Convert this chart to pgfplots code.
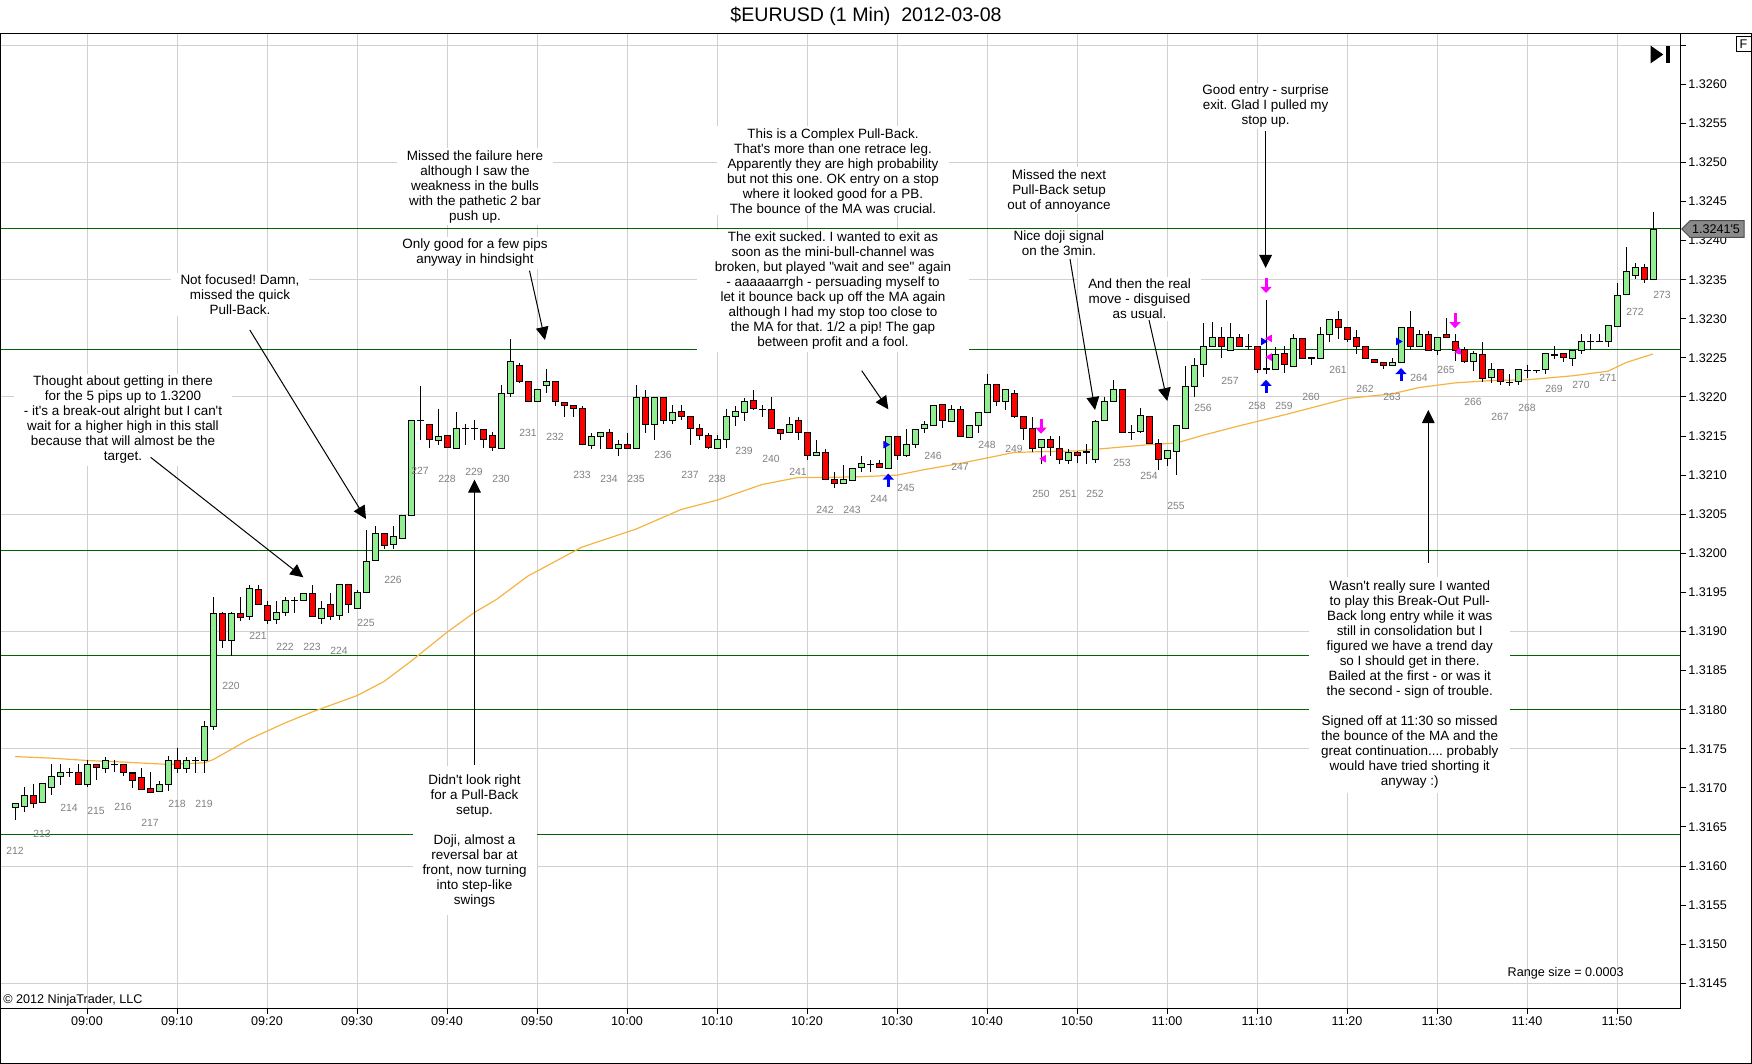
\documentclass[border=0pt]{standalone}
\usepackage{fontspec}
\setmainfont{Liberation Sans}[Ligatures=TeXOff]
\usepackage{pgfplots}
\usepackage{pgfplotstable}
\pgfplotsset{compat=1.18}
\usetikzlibrary{arrows.meta}
\frenchspacing
\definecolor{cgreen}{HTML}{90EE90}
\definecolor{cred}{HTML}{FF0000}
\definecolor{dkgreen}{HTML}{006400}
\definecolor{gridgray}{HTML}{D0D0D0}
\definecolor{maorange}{HTML}{F5B342}
\definecolor{lblgray}{HTML}{808080}
\definecolor{sigmag}{HTML}{FF00FF}
\definecolor{sigblue}{HTML}{0000FF}
\definecolor{markgray}{HTML}{8A8A8A}
\newcommand\tickfont{\fontsize{6.3}{7.5}\selectfont}
\newcommand\annfont{\fontsize{6.73}{7.5}\selectfont}
\newcommand\barfont{\fontsize{5.2}{6}\selectfont}
\newcommand\titlefont{\fontsize{9.8}{11}\selectfont}

\pgfplotstableread{
k o h l c
0 1.31676 1.31681 1.31660 1.31681
1 1.31676 1.31701 1.31670 1.31691
3 1.31681 1.31705 1.31681 1.31705
4 1.31701 1.31731 1.31691 1.31715
5 1.31715 1.31731 1.31705 1.31720
8 1.31705 1.31736 1.31701 1.31731
10 1.31726 1.31741 1.31720 1.31736
16 1.31696 1.31710 1.31696 1.31705
17 1.31705 1.31741 1.31696 1.31736
19 1.31726 1.31741 1.31720 1.31736
21 1.31736 1.31786 1.31720 1.31780
22 1.31780 1.31945 1.31775 1.31925
24 1.31890 1.31925 1.31869 1.31925
26 1.31920 1.31960 1.31915 1.31955
29 1.31916 1.31940 1.31911 1.31925
30 1.31925 1.31945 1.31920 1.31940
32 1.31940 1.31950 1.31940 1.31950
34 1.31916 1.31940 1.31911 1.31930
36 1.31920 1.31960 1.31915 1.31960
38 1.31930 1.31955 1.31930 1.31950
39 1.31951 1.32031 1.31951 1.31991
40 1.31991 1.32036 1.31991 1.32026
42 1.32011 1.32036 1.32006 1.32021
43 1.32021 1.32050 1.32021 1.32050
44 1.32050 1.32171 1.32050 1.32171
47 1.32146 1.32186 1.32140 1.32151
49 1.32135 1.32181 1.32135 1.32160
54 1.32135 1.32215 1.32135 1.32205
55 1.32205 1.32275 1.32200 1.32245
58 1.32195 1.32210 1.32195 1.32210
59 1.32215 1.32236 1.32205 1.32220
64 1.32140 1.32155 1.32135 1.32151
65 1.32151 1.32155 1.32135 1.32155
67 1.32135 1.32146 1.32125 1.32140
69 1.32135 1.32215 1.32135 1.32200
71 1.32166 1.32200 1.32146 1.32200
73 1.32171 1.32190 1.32166 1.32181
78 1.32135 1.32151 1.32135 1.32146
79 1.32145 1.32185 1.32135 1.32175
80 1.32175 1.32190 1.32165 1.32181
81 1.32181 1.32200 1.32170 1.32195
86 1.32155 1.32175 1.32155 1.32165
89 1.32125 1.32145 1.32125 1.32130
92 1.32090 1.32115 1.32090 1.32095
93 1.32095 1.32110 1.32095 1.32110
94 1.32110 1.32125 1.32105 1.32115
97 1.32110 1.32150 1.32110 1.32150
99 1.32125 1.32160 1.32125 1.32140
100 1.32140 1.32160 1.32135 1.32160
101 1.32160 1.32170 1.32155 1.32165
102 1.32165 1.32190 1.32165 1.32190
104 1.32170 1.32190 1.32170 1.32185
106 1.32150 1.32165 1.32150 1.32165
107 1.32165 1.32181 1.32155 1.32181
108 1.32181 1.32231 1.32181 1.32216
110 1.32195 1.32210 1.32185 1.32210
114 1.32135 1.32145 1.32115 1.32145
117 1.32120 1.32135 1.32115 1.32130
120 1.32121 1.32170 1.32116 1.32170
121 1.32170 1.32201 1.32170 1.32195
122 1.32195 1.32222 1.32195 1.32211
125 1.32155 1.32186 1.32155 1.32176
128 1.32121 1.32131 1.32112 1.32131
129 1.32131 1.32165 1.32101 1.32165
130 1.32161 1.32241 1.32161 1.32215
131 1.32215 1.32250 1.32201 1.32241
132 1.32241 1.32296 1.32226 1.32265
133 1.32265 1.32296 1.32265 1.32276
135 1.32260 1.32296 1.32260 1.32276
140 1.32236 1.32265 1.32236 1.32255
142 1.32241 1.32281 1.32241 1.32276
145 1.32250 1.32290 1.32250 1.32281
146 1.32281 1.32300 1.32270 1.32300
153 1.32241 1.32250 1.32241 1.32245
154 1.32245 1.32290 1.32245 1.32290
156 1.32265 1.32286 1.32265 1.32281
158 1.32260 1.32276 1.32254 1.32276
162 1.32245 1.32260 1.32235 1.32255
164 1.32225 1.32245 1.32220 1.32235
167 1.32220 1.32235 1.32215 1.32235
170 1.32235 1.32255 1.32231 1.32255
173 1.32250 1.32260 1.32240 1.32260
174 1.32260 1.32281 1.32255 1.32271
177 1.32271 1.32292 1.32265 1.32292
178 1.32292 1.32347 1.32292 1.32331
179 1.32331 1.32392 1.32331 1.32361
180 1.32356 1.32371 1.32351 1.32366
182 1.32351 1.32437 1.32351 1.32415
}\greenbars

\pgfplotstableread{
k o h l c
2 1.31691 1.31706 1.31675 1.31681
7 1.31720 1.31731 1.31705 1.31705
9 1.31731 1.31731 1.31710 1.31726
12 1.31731 1.31731 1.31715 1.31720
13 1.31720 1.31720 1.31700 1.31710
14 1.31715 1.31726 1.31700 1.31700
15 1.31701 1.31720 1.31696 1.31696
18 1.31736 1.31751 1.31720 1.31726
23 1.31925 1.31925 1.31880 1.31890
25 1.31925 1.31945 1.31915 1.31920
27 1.31955 1.31960 1.31935 1.31935
28 1.31935 1.31940 1.31911 1.31916
33 1.31950 1.31960 1.31920 1.31920
35 1.31935 1.31950 1.31916 1.31920
37 1.31960 1.31960 1.31925 1.31935
41 1.32026 1.32026 1.32006 1.32011
46 1.32166 1.32166 1.32135 1.32146
48 1.32151 1.32151 1.32135 1.32135
52 1.32160 1.32160 1.32135 1.32146
53 1.32151 1.32155 1.32131 1.32135
56 1.32240 1.32245 1.32220 1.32220
57 1.32220 1.32220 1.32195 1.32195
60 1.32220 1.32220 1.32190 1.32195
61 1.32195 1.32195 1.32175 1.32190
62 1.32189 1.32189 1.32175 1.32186
63 1.32186 1.32189 1.32140 1.32140
66 1.32155 1.32160 1.32135 1.32135
68 1.32140 1.32155 1.32135 1.32135
70 1.32200 1.32210 1.32155 1.32166
72 1.32200 1.32200 1.32166 1.32171
74 1.32181 1.32190 1.32171 1.32175
75 1.32175 1.32175 1.32140 1.32160
76 1.32160 1.32166 1.32146 1.32151
77 1.32151 1.32155 1.32135 1.32135
82 1.32195 1.32210 1.32185 1.32185
84 1.32185 1.32200 1.32160 1.32160
85 1.32160 1.32160 1.32145 1.32155
87 1.32170 1.32175 1.32145 1.32155
88 1.32155 1.32155 1.32120 1.32125
90 1.32130 1.32135 1.32095 1.32095
91 1.32095 1.32105 1.32084 1.32090
96 1.32115 1.32120 1.32110 1.32110
98 1.32150 1.32150 1.32120 1.32125
103 1.32190 1.32190 1.32160 1.32170
105 1.32185 1.32190 1.32150 1.32150
109 1.32216 1.32216 1.32190 1.32195
111 1.32205 1.32210 1.32175 1.32175
112 1.32175 1.32175 1.32145 1.32160
113 1.32160 1.32175 1.32130 1.32135
115 1.32145 1.32150 1.32125 1.32135
116 1.32135 1.32150 1.32115 1.32120
118 1.32131 1.32131 1.32116 1.32126
123 1.32211 1.32211 1.32155 1.32155
126 1.32176 1.32176 1.32141 1.32141
127 1.32141 1.32146 1.32106 1.32121
134 1.32276 1.32290 1.32250 1.32265
136 1.32276 1.32281 1.32265 1.32265
138 1.32265 1.32265 1.32231 1.32236
141 1.32255 1.32265 1.32231 1.32241
143 1.32276 1.32276 1.32250 1.32250
147 1.32300 1.32310 1.32275 1.32290
148 1.32290 1.32290 1.32270 1.32275
149 1.32276 1.32286 1.32255 1.32265
150 1.32265 1.32265 1.32250 1.32250
151 1.32250 1.32250 1.32245 1.32245
152 1.32245 1.32245 1.32236 1.32241
155 1.32290 1.32310 1.32260 1.32265
157 1.32281 1.32286 1.32260 1.32260
159 1.32281 1.32301 1.32276 1.32276
160 1.32271 1.32281 1.32246 1.32260
161 1.32260 1.32266 1.32245 1.32245
163 1.32255 1.32271 1.32220 1.32225
165 1.32235 1.32235 1.32215 1.32220
172 1.32255 1.32255 1.32245 1.32250
181 1.32366 1.32371 1.32347 1.32351
}\redbars

\pgfplotstableread{
k o h l c
6 1.31720 1.31726 1.31715 1.31720
11 1.31731 1.31736 1.31720 1.31731
20 1.31736 1.31741 1.31720 1.31736
31 1.31940 1.31945 1.31925 1.31940
45 1.32171 1.32215 1.32146 1.32171
50 1.32160 1.32166 1.32140 1.32160
51 1.32160 1.32171 1.32146 1.32160
83 1.32185 1.32190 1.32175 1.32185
95 1.32115 1.32120 1.32105 1.32115
119 1.32131 1.32141 1.32116 1.32131
124 1.32155 1.32165 1.32146 1.32155
137 1.32265 1.32281 1.32260 1.32265
139 1.32236 1.32325 1.32231 1.32236
144 1.32250 1.32250 1.32241 1.32250
166 1.32220 1.32231 1.32215 1.32220
168 1.32235 1.32242 1.32225 1.32235
169 1.32235 1.32235 1.32231 1.32235
171 1.32255 1.32266 1.32250 1.32255
175 1.32271 1.32281 1.32260 1.32271
176 1.32271 1.32281 1.32271 1.32271
}\dojibars

\pgfplotstableread{
k p
0 1.31740
4 1.31738
8 1.31735
12 1.31733
17 1.31730
21 1.31732
22 1.31736
24 1.31749
26 1.31762
30 1.31783
33 1.31797
38 1.31818
41 1.31836
44 1.31862
48 1.31899
51 1.31924
53.5 1.31941
57 1.31971
63 1.32008
69 1.32031
74 1.32056
78 1.32068
83 1.32088
87 1.32097
90 1.32097
94 1.32098
98 1.32100
101 1.32107
105 1.32115
108 1.32122
111 1.32129
114 1.32130
118 1.32131
120 1.32133
126 1.32139
129 1.32141
132 1.32151
136 1.32163
141 1.32177
148 1.32198
153 1.32204
156 1.32212
160 1.32218
164 1.32221
168 1.32222
173 1.32227
177 1.32233
179 1.32244
182 1.32255
}\ma

\pgfplotstableread{
n k p
212 0 1.31620
213 3 1.31641
214 6 1.31675
215 9 1.31670
216 12 1.31675
217 15 1.31655
218 18 1.31680
219 21 1.31680
220 24 1.31830
221 27 1.31895
222 30 1.31880
223 33 1.31880
224 36 1.31875
225 39 1.31911
226 42 1.31966
227 45 1.32105
228 48 1.32095
229 51 1.32104
230 54 1.32095
231 57 1.32154
232 60 1.32149
233 63 1.32100
234 66 1.32095
235 69 1.32095
236 72 1.32126
237 75 1.32100
238 78 1.32095
239 81 1.32131
240 84 1.32121
241 87 1.32104
242 90 1.32055
243 93 1.32055
244 96 1.32070
245 99 1.32084
246 102 1.32125
247 105 1.32110
248 108 1.32139
249 111 1.32134
250 114 1.32076
251 117 1.32076
252 120 1.32076
253 123 1.32115
254 126 1.32099
255 129 1.32060
256 132 1.32186
257 135 1.32220
258 138 1.32189
259 141 1.32189
260 144 1.32200
261 147 1.32235
262 150 1.32210
263 153 1.32200
264 156 1.32225
265 159 1.32235
266 162 1.32194
267 165 1.32175
268 168 1.32186
269 171 1.32210
270 174 1.32215
271 177 1.32225
272 180 1.32309
273 183 1.32330
}\barlabels

\pgfplotstableread{
k y v
97.03 1.32085 0.00017
139 1.32205 0.00017
154 1.32220 0.00017
}\bluearrows

\pgfplotstableread{
k y v
114 1.32172 -0.00019
139 1.32352 -0.00019
160 1.32307 -0.00019
}\magarrows

\newcommand\wicks[1]{%
\addplot[draw=none, mark=none, forget plot, error bars/.cd, y dir=both, y explicit, error mark=none,
  error bar style={draw=black, line width=0.5pt}]
  table[x=k, y expr={(\thisrow{h}+\thisrow{l})/2}, y error expr={(\thisrow{h}-\thisrow{l})/2}] {#1};}
\newcommand\bodyline[1]{%
\addplot[draw=none, mark=none, forget plot, error bars/.cd, y dir=both, y explicit, error mark=none,
  error bar style={draw=black, line width=3.5pt}]
  table[x=k, y expr={(\thisrow{o}+\thisrow{c})/2}, y error expr={abs(\thisrow{c}-\thisrow{o})/2+0.0000064}] {#1};}
\newcommand\bodyfill[2]{%
\addplot[draw=none, mark=none, forget plot, error bars/.cd, y dir=both, y explicit, error mark=none,
  error bar style={draw=#2, line width=2.5pt}]
  table[x=k, y expr={(\thisrow{o}+\thisrow{c})/2}, y error expr={max(abs(\thisrow{c}-\thisrow{o})/2-0.0000064,0)}] {#1};}

\begin{document}
\begin{tikzpicture}
\path[use as bounding box] (0,0) rectangle (876pt,-532pt);
\begin{axis}[
  at={(0pt,-17pt)}, anchor=north west,
  scale only axis, width=840pt, height=487.15pt,
  xmin=-1.6667, xmax=185, ymin=1.31418, ymax=1.326643,
  axis line style={black, line width=0.5pt},
  xtick={8,18,28,38,48,58,68,78,88,98,108,118,128,138,148,158,168,178},
  xticklabels={09:00,09:10,09:20,09:30,09:40,09:50,10:00,10:10,10:20,10:30,10:40,10:50,11:00,11:10,11:20,11:30,11:40,11:50},
  ytick={1.3145,1.3150,1.3155,1.3160,1.3165,1.3170,1.3175,1.3180,1.3185,1.3190,1.3195,1.3200,1.3205,1.3210,1.3215,1.3220,1.3225,1.3230,1.3235,1.3240,1.3245,1.3250,1.3255,1.3260,1.3265},
  yticklabels={1.3145,1.3150,1.3155,1.3160,1.3165,1.3170,1.3175,1.3180,1.3185,1.3190,1.3195,1.3200,1.3205,1.3210,1.3215,1.3220,1.3225,1.3230,1.3235,1.3240,1.3245,1.3250,1.3255,1.3260,{}},
  xtick pos=bottom, ytick pos=right, yticklabel pos=right,
  tick align=outside, major tick length=2.75pt,
  tick style={black, line width=0.5pt},
  xmajorgrids, grid style={gridgray, line width=0.5pt},
  extra y ticks={1.3145,1.3160,1.3175,1.3190,1.3205,1.3220,1.3235,1.3250,1.3265},
  extra y tick labels={},
  extra y tick style={grid=major, major tick length=0pt},
  ticklabel style={font=\tickfont, text=black},
  yticklabel style={inner xsep=1.2pt},
  xticklabel style={inner ysep=1.5pt},
  /pgf/number format/assume math mode=true,
]
% support / resistance lines
\addplot[dkgreen, line width=0.5pt, forget plot] coordinates {(-2,1.31640) (186,1.31640)};
\addplot[dkgreen, line width=0.5pt, forget plot] coordinates {(-2,1.31800) (186,1.31800)};
\addplot[dkgreen, line width=0.5pt, forget plot] coordinates {(-2,1.31869) (186,1.31869)};
\addplot[dkgreen, line width=0.5pt, forget plot] coordinates {(-2,1.32003) (186,1.32003)};
\addplot[dkgreen, line width=0.5pt, forget plot] coordinates {(-2,1.32261) (186,1.32261)};
\addplot[dkgreen, line width=0.5pt, forget plot] coordinates {(-2,1.32415) (186,1.32415)};
% moving average
\addplot[maorange, line width=0.6pt, forget plot] table[x=k, y=p] {\ma};
% candles
\wicks{\greenbars}
\wicks{\redbars}
\wicks{\dojibars}
\bodyline{\greenbars}
\bodyline{\redbars}
\bodyline{\dojibars}
\bodyfill{\greenbars}{cgreen}
\bodyfill{\redbars}{cred}
% bar numbers
\addplot[only marks, mark=*, mark size=0pt, mark options={draw=none, fill=none}, forget plot,
  nodes near coords, point meta=explicit symbolic,
  every node near coord/.style={anchor=center, font=\barfont, text=lblgray, inner sep=0pt}]
  table[x=k, y=p, meta=n] {\barlabels};
% signal arrows
\addplot[sigblue, line width=1.5pt, -{Triangle[length=3pt,width=5.4pt]}, quiver={u=0, v=\thisrow{v}}, forget plot]
  table[x=k, y=y] {\bluearrows};
\addplot[sigmag, line width=1.5pt, -{Triangle[length=3pt,width=5.4pt]}, quiver={u=0, v=\thisrow{v}}, forget plot]
  table[x=k, y=y] {\magarrows};
\addplot[only marks, mark=triangle*, mark size=1.8pt, sigblue, mark options={rotate=-90}, forget plot]
  coordinates {(96.74,1.32139) (138.7,1.32271) (153.7,1.32271)};
\addplot[only marks, mark=triangle*, mark size=1.8pt, sigmag, mark options={rotate=90}, forget plot]
  coordinates {(114.3,1.32121) (139.4,1.32275) (139.4,1.32251)};
\addplot[only marks, mark=triangle*, mark size=1.8pt, sigmag, mark options={rotate=-135}, forget plot]
  coordinates {(160.4,1.32258)};
\end{axis}

\begin{scope}[x=0.5pt, y=-0.5pt]
  % frame
  \draw[black, line width=0.5pt] (0,34) -- (1751.5,34) -- (1751.5,1063.5) -- (0.5,1063.5) -- (0.5,34);
  % title
  \node[font=\titlefont] at (866,16) {\$EURUSD (1 Min)\ \ 2012-03-08};
  % F box and end symbol
  \draw[line width=0.5pt, fill=white] (1736,37) rectangle (1751,52);
  \node[font=\tickfont, inner sep=0pt] at (1743.5,44.5) {F};
  \fill[black] (1650.7,45.7) -- (1663.3,54.5) -- (1650.7,63.3) -- cycle;
  \fill[black] (1666,45.7) rectangle (1670,63.3);
  % price marker
  \filldraw[fill=markgray, draw=black!70, line width=0.5pt] (1681.7,229) -- (1690,220.7) -- (1744,220.7) -- (1744,237.3) -- (1690,237.3) -- cycle;
  \node[font=\tickfont, inner sep=0pt] at (1716,229) {1.3241'5};
  % footer texts
  \node[font=\tickfont, anchor=west, inner sep=0pt] at (3,1000.5) {© 2012 NinjaTrader, LLC};
  \node[font=\tickfont, inner sep=0pt] at (1565.7,973.3) {Range size = 0.0003};

  \tikzset{ann/.style={font=\annfont, align=center, fill=white, inner xsep=5pt, inner ysep=1pt},
           aarr/.style={black, line width=0.5pt, -{Triangle[length=6.5pt,width=6.3pt]}}}
  % annotations
  \node[ann] at (123,420) {Thought about getting in there\\for the 5 pips up to 1.3200\\- it's a break-out alright but I can't\\wait for a higher high in this stall\\because that will almost be the\\target.};
  \node[ann] at (240,294.5) {Not focused! Damn,\\missed the quick\\Pull-Back.};
  \node[ann] at (475,186.7) {Missed the failure here\\although I saw the\\weakness in the bulls\\with the pathetic 2 bar\\push up.};
  \node[ann] at (475,253) {Only good for a few pips\\anyway in hindsight};
  \node[ann, inner ysep=4pt] at (474.5,840.7) {Didn't look right\\for a Pull-Back\\setup.\\[7.5pt]Doji, almost a\\reversal bar at\\front, now turning\\into step-like\\swings};
  \node[ann] at (833,170.8) {This is a Complex Pull-Back.\\That's more than one retrace leg.\\Apparently they are high probability\\but not this one. OK entry on a stop\\where it looked good for a PB.\\The bounce of the MA was crucial.};
  \node[ann, inner xsep=9pt] at (833,291) {The exit sucked. I wanted to exit as\\soon as the mini-bull-channel was\\broken, but played "wait and see" again\\- aaaaaarrgh - persuading myself to\\let it bounce back up off the MA again\\although I had my stop too close to\\the MA for that. 1/2 a pip! The gap\\between profit and a fool.};
  \node[ann] at (1059,190.7) {Missed the next\\Pull-Back setup\\out of annoyance};
  \node[ann] at (1059,243.5) {Nice doji signal\\on the 3min.};
  \node[ann] at (1139.5,298.8) {And then the real\\move - disguised\\as usual.};
  \node[ann] at (1265.6,106) {Good entry - surprise\\exit. Glad I pulled my\\stop up.};
  \node[ann, inner xsep=6pt, inner ysep=2pt] at (1409.7,684.8) {Wasn't really sure I wanted\\to play this Break-Out Pull-\\Back long entry while it was\\still in consolidation but I\\figured we have a trend day\\so I should get in there.\\Bailed at the first - or was it\\the second - sign of trouble.\\[7.5pt]Signed off at 11:30 so missed\\the bounce of the MA and the\\great continuation.... probably\\would have tried shorting it\\anyway :)};
  % annotation arrows
  \draw[aarr] (150.6,457.3) -- (303.3,577.3);
  \draw[aarr] (249.8,330) -- (366,519);
  \draw[aarr] (529.5,270.7) -- (545,340);
  \draw[aarr] (474.5,765) -- (474.5,479.5);
  \draw[aarr] (861.7,370.7) -- (888.3,409.3);
  \draw[aarr] (1070,259) -- (1095,410);
  \draw[aarr] (1149,320) -- (1167.3,401);
  \draw[aarr] (1265.6,131) -- (1265.6,268);
  \draw[aarr] (1428.3,563) -- (1428.3,410);
\end{scope}
\end{tikzpicture}
\end{document}
